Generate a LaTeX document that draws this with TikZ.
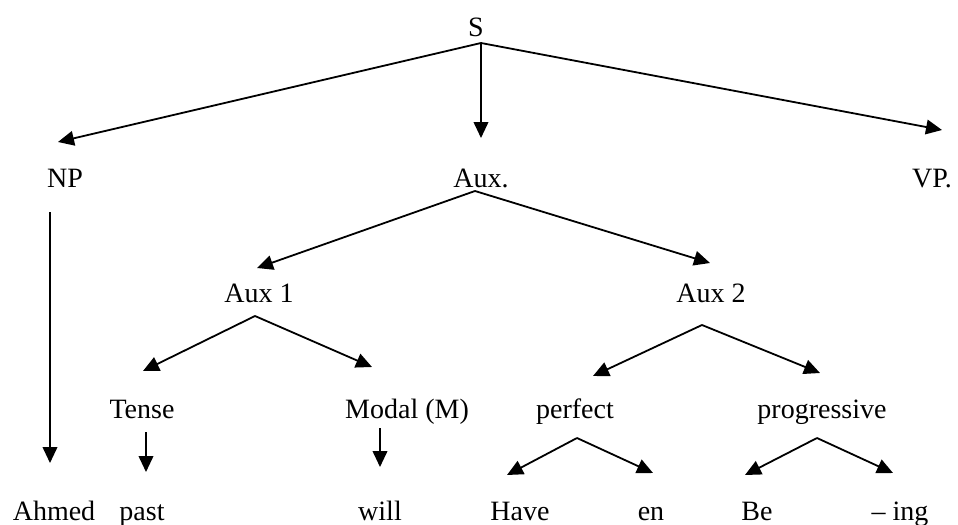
\documentclass[tikz,border=0pt]{standalone}
\usepackage{fontspec}
\setmainfont{Liberation Serif}
\usetikzlibrary{arrows.meta}
\begin{document}
\begin{tikzpicture}[x=0.75pt,y=-0.75pt,
  word/.style={anchor=base, inner sep=0pt, font=\fontsize{21}{25}\selectfont},
  branch/.style={line width=1.35pt, -{Triangle[length=12pt,width=11pt]}}]
\useasboundingbox (0,0) rectangle (958,525);

% ---- labels of the tree ----
\node[word] (S)     at (476,36)  {S};
\node[word] (NP)    at (65,187)  {NP};
\node[word] (Aux)   at (481,187) {Aux.};
\node[word] (VP)    at (932,187) {VP.};
\node[word] (AuxA)  at (259,302) {Aux 1};
\node[word] (AuxB)  at (711,302) {Aux 2};
\node[word] (Tense) at (142,418) {Tense};
\node[word] (Modal) at (407,418) {Modal (M)};
\node[word] (Perf)  at (575,418) {perfect};
\node[word] (Prog)  at (822,418) {progressive};
\node[word] (Ahmed) at (54,520)  {Ahmed};
\node[word] (Past)  at (142,520) {past};
\node[word] (Will)  at (380,520) {will};
\node[word] (Have)  at (520,520) {Have};
\node[word] (En)    at (651,520) {en};
\node[word] (Be)    at (757,520) {Be};
\node[word] (Ing)   at (900,520) {-- ing};

% ---- branch points and arrow ends ----
\coordinate (S-fork)     at (481,43);
\coordinate (NP-in)      at (58,142);
\coordinate (Aux-in)     at (481,138);
\coordinate (VP-in)      at (942,130);
\coordinate (NP-out)     at (50,212);
\coordinate (Ahmed-in)   at (50,463);
\coordinate (Aux-fork)   at (475,191);
\coordinate (AuxA-in)    at (257,268);
\coordinate (AuxB-in)    at (710,263);
\coordinate (AuxA-fork)  at (255,316);
\coordinate (Tense-in)   at (143,371);
\coordinate (Modal-in)   at (372,367);
\coordinate (AuxB-fork)  at (702,325);
\coordinate (Perf-in)    at (593,376);
\coordinate (Prog-in)    at (820,373);
\coordinate (Tense-out)  at (146,432);
\coordinate (Past-in)    at (146,472);
\coordinate (Modal-out)  at (380,428);
\coordinate (Will-in)    at (380,467);
\coordinate (Perf-fork)  at (577,438);
\coordinate (Have-in)    at (507,475);
\coordinate (En-in)      at (653,473);
\coordinate (Prog-fork)  at (817,438);
\coordinate (Be-in)      at (745,475);
\coordinate (Ing-in)     at (893,473);

% ---- branches ----
\draw[branch] (S-fork) -- (NP-in);
\draw[branch] (S-fork) -- (Aux-in);
\draw[branch] (S-fork) -- (VP-in);
\draw[branch] (NP-out) -- (Ahmed-in);
\draw[branch] (Aux-fork) -- (AuxA-in);
\draw[branch] (Aux-fork) -- (AuxB-in);
\draw[branch] (AuxA-fork) -- (Tense-in);
\draw[branch] (AuxA-fork) -- (Modal-in);
\draw[branch] (AuxB-fork) -- (Perf-in);
\draw[branch] (AuxB-fork) -- (Prog-in);
\draw[branch] (Tense-out) -- (Past-in);
\draw[branch] (Modal-out) -- (Will-in);
\draw[branch] (Perf-fork) -- (Have-in);
\draw[branch] (Perf-fork) -- (En-in);
\draw[branch] (Prog-fork) -- (Be-in);
\draw[branch] (Prog-fork) -- (Ing-in);
\end{tikzpicture}
\end{document}
